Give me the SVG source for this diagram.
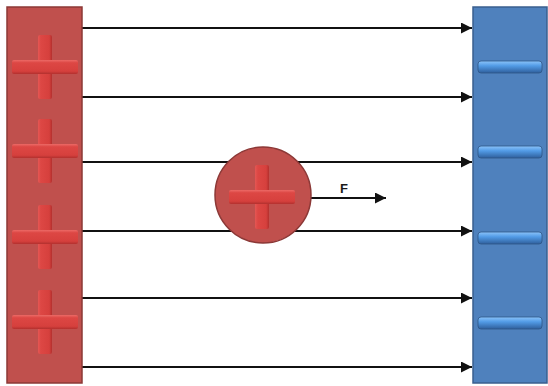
<svg xmlns="http://www.w3.org/2000/svg" width="548" height="386" viewBox="0 0 548 386">
  <style>
    .plate-pos { fill: #c0504d; stroke: #8c3836; stroke-width: 1.5; }
    .plate-neg { fill: #4f81bd; stroke: #3a5f8f; stroke-width: 1.5; }
    .field { stroke: #111; stroke-width: 2; fill: none; marker-end: url(#arrow); }
    .bar-v { fill: url(#vGrad); }
    .bar-h { fill: url(#hGrad); }
    .minus { fill: url(#minusGrad); stroke: #2f5585; stroke-width: 0.8; }
    .label { font-family: "Liberation Sans", Arial, sans-serif; font-weight: bold; font-size: 13px; fill: #1a1a1a; }
  </style>
  <defs>
    <marker id="arrow" viewBox="0 0 10 10" refX="10" refY="5" markerWidth="6.5" markerHeight="5.5" orient="auto" markerUnits="strokeWidth">
      <path d="M0,0 L10,5 L0,10 Z" fill="#111"/>
    </marker>
    <linearGradient id="hGrad" x1="0" y1="0" x2="0" y2="1">
      <stop offset="0" stop-color="#ec6a66"/>
      <stop offset="0.2" stop-color="#dd4744"/>
      <stop offset="0.8" stop-color="#d6403d"/>
      <stop offset="1" stop-color="#b3302e"/>
    </linearGradient>
    <linearGradient id="vGrad" x1="0" y1="0" x2="1" y2="0">
      <stop offset="0" stop-color="#e55754"/>
      <stop offset="0.2" stop-color="#dd4744"/>
      <stop offset="0.8" stop-color="#d6403d"/>
      <stop offset="1" stop-color="#b3302e"/>
    </linearGradient>
    <linearGradient id="minusGrad" x1="0" y1="0" x2="0" y2="1">
      <stop offset="0" stop-color="#8cc4fa"/>
      <stop offset="0.4" stop-color="#529be6"/>
      <stop offset="1" stop-color="#2f5f9c"/>
    </linearGradient>
    <g id="plus">
      <rect class="bar-v" x="-7" y="-32" width="14" height="64" rx="2"/>
      <rect class="bar-h" x="-33" y="-7" width="66" height="14" rx="2"/>
    </g>
  </defs>

  <!-- field lines between the plates -->
  <g id="connectors">
    <line class="field" x1="82" y1="28" x2="472" y2="28"/>
    <line class="field" x1="82" y1="97" x2="472" y2="97"/>
    <line class="field" x1="82" y1="162" x2="472" y2="162"/>
    <line class="field" x1="82" y1="231" x2="472" y2="231"/>
    <line class="field" x1="82" y1="298" x2="472" y2="298"/>
    <line class="field" x1="82" y1="367" x2="472" y2="367"/>
    <line class="field" x1="311" y1="198" x2="386" y2="198"/>
  </g>

  <!-- positive plate -->
  <g id="positive-plate">
    <rect class="plate-pos" x="7" y="7" width="75" height="376"/>
    <use href="#plus" transform="translate(45,67)"/>
    <use href="#plus" transform="translate(45,151)"/>
    <use href="#plus" transform="translate(45,237)"/>
    <use href="#plus" transform="translate(45,322)"/>
  </g>

  <!-- negative plate -->
  <g id="negative-plate">
    <rect class="plate-neg" x="473" y="7" width="74" height="376"/>
    <rect class="minus" x="478" y="61" width="64" height="12" rx="3"/>
    <rect class="minus" x="478" y="146" width="64" height="12" rx="3"/>
    <rect class="minus" x="478" y="232" width="64" height="12" rx="3"/>
    <rect class="minus" x="478" y="317" width="64" height="12" rx="3"/>
  </g>

  <!-- test charge -->
  <g id="test-charge">
    <circle cx="263" cy="195" r="48" fill="#c0504d" stroke="#8c3836" stroke-width="1.5"/>
    <use href="#plus" transform="translate(262,197)"/>
  </g>

  <!-- force label -->
  <g id="force-label">
    <text class="label" x="340" y="193">F</text>
  </g>
</svg>
